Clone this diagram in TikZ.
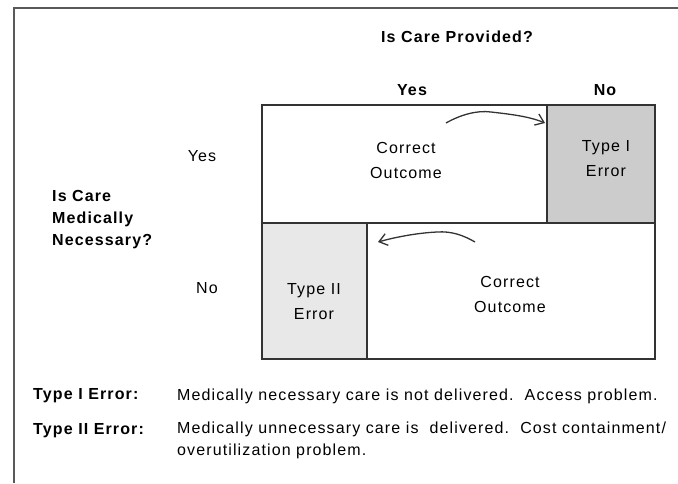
\documentclass[tikz,border=0pt]{standalone}
\usepackage{fontspec}
\setmainfont{Liberation Sans}
\newfontfamily\spaced[LetterSpace=7]{Liberation Sans}
\usetikzlibrary{arrows.meta}
\tikzset{
  cell/.style={draw=black!80, line width=1.5pt, minimum width=#1, inner sep=0pt},
  celltxt/.style={align=center, inner sep=0pt, font=\spaced\fontsize{16}{25}\selectfont},
  hdr/.style={font=\spaced\bfseries\fontsize{16}{22}\selectfont, inner sep=0pt},
  side/.style={font=\spaced\fontsize{16}{22}\selectfont, inner sep=0pt},
  legtxt/.style={font=\spaced\fontsize{16}{22}\selectfont, anchor=west, inner sep=0pt, align=left},
  legkey/.style={font=\spaced\bfseries\fontsize{16}{22}\selectfont, anchor=west, inner sep=0pt},
  hand/.style={line width=1.3pt, black!80, -{Straight Barb[length=8pt, width=12pt, line width=1.3pt]}}
}
\begin{document}
\begin{tikzpicture}[x=1pt, y=-1pt]
\useasboundingbox (0,0) rectangle (678,483);
% frame
\draw[line width=1.6pt, black!65] (678,8) -- (14,8) -- (14,483);
% cells
\node[cell=285pt, minimum height=118pt] (ca) at (404.5,164) {};
\node[cell=108pt, minimum height=118pt, fill=black!20] (cb) at (601,164) {};
\node[cell=105pt, minimum height=136pt, fill=black!9] (cc) at (314.5,291) {};
\node[cell=288pt, minimum height=136pt] (cd) at (511,291) {};
% cell texts
\node[celltxt] (ta) at (406,160.5) {Correct\\Outcome};
\node[celltxt] (tb) at (606,159) {Type I\\Error};
\node[celltxt] (tc) at (314,302) {Type II\\Error};
\node[celltxt] (td) at (510,294) {Correct\\Outcome};
% headers
\node[hdr] (q1) at (457,37) {Is Care Provided?};
\node[hdr] (y1) at (412,90) {Yes};
\node[hdr] (n1) at (605,90) {No};
\node[side] (y2) at (202,156) {Yes};
\node[side] (n2) at (207,288) {No};
\node[hdr, anchor=west, align=left] (q2) at (52,220) {Is Care\\Medically\\Necessary?};
% arrows
\coordinate (a1s) at (446,123);
\coordinate (a1m) at (491,112);
\coordinate (a1e) at (545,123);
\draw[hand] (a1s) .. controls (460,115) and (477,110) .. (a1m)
  .. controls (508,114) and (528,116) .. (a1e);
\coordinate (a2s) at (475,242);
\coordinate (a2m) at (437,232);
\coordinate (a2e) at (378,242);
\draw[hand] (a2s) .. controls (463,235) and (451,231) .. (a2m)
  .. controls (417,233) and (396,237) .. (a2e);
% legend
\node[legkey] (k1) at (33,396) {Type I Error:};
\node[legtxt] (t1) at (177,396) {Medically necessary care is not delivered.\ \ Access problem.};
\node[legkey] (k2) at (33,431) {Type II Error:};
\node[legtxt, anchor=north west] (t2) at (177,422) {Medically unnecessary care is \ delivered.\ \ Cost containment/\\overutilization problem.};
\end{tikzpicture}
\end{document}
